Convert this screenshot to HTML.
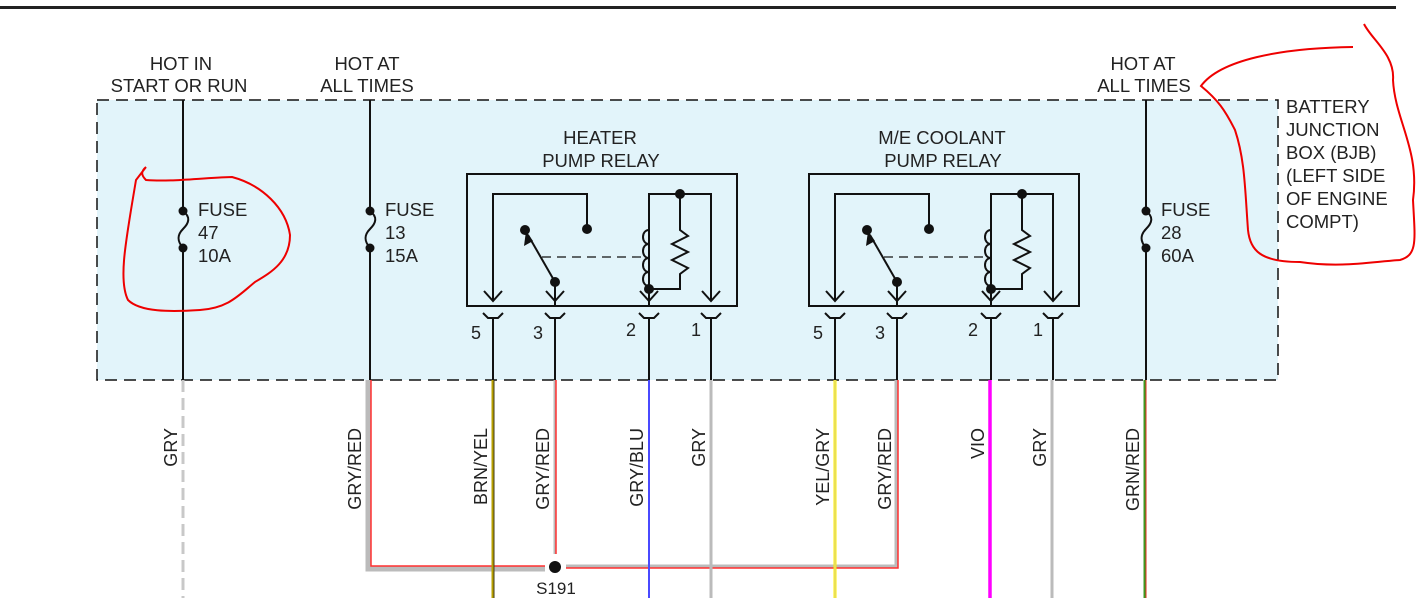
<!DOCTYPE html>
<html><head><meta charset="utf-8"><style>
html,body{margin:0;padding:0;background:#fff;width:1418px;height:598px;overflow:hidden}
text{font-family:"Liberation Sans",Arial,sans-serif;fill:#222}
</style></head><body>
<svg width="1418" height="598" viewBox="0 0 1418 598" xmlns="http://www.w3.org/2000/svg">
<rect x="0" y="6" width="1396" height="3" fill="#222"/>
<rect x="97" y="100" width="1181" height="280" fill="#e2f4fa"/>
<rect x="97" y="100" width="1181" height="280" fill="none" stroke="#111" stroke-width="1.5" stroke-dasharray="12,7"/>

<g font-size="18.5" text-anchor="middle">
<text x="181" y="70">HOT IN</text><text x="179" y="92">START OR RUN</text>
<text x="367" y="70">HOT AT</text><text x="367" y="92">ALL TIMES</text>
<text x="1143" y="70">HOT AT</text><text x="1144" y="92">ALL TIMES</text>
<text x="600" y="144">HEATER</text><text x="601" y="167">PUMP RELAY</text>
<text x="942" y="144">M/E COOLANT</text><text x="943" y="167">PUMP RELAY</text>
</g>
<g font-size="18.5">
<text x="1286" y="113">BATTERY</text><text x="1286" y="136">JUNCTION</text><text x="1286" y="159">BOX (BJB)</text>
<text x="1286" y="182">(LEFT SIDE</text><text x="1286" y="205">OF ENGINE</text><text x="1286" y="228">COMPT)</text>
</g>

<g stroke="#111" stroke-width="2" fill="none">
<path d="M183,100 V211 M183,248 V380"/>
<path d="M370,100 V211 M370,248 V380"/>
<path d="M1146,100 V211 M1146,248 V380"/>
<path d="M183,211 c8,6 6,12 0,18 c-6,6 -6,12 0,19"/>
<path d="M370,211 c8,6 6,12 0,18 c-6,6 -6,12 0,19"/>
<path d="M1146,211 c8,6 6,12 0,18 c-6,6 -6,12 0,19"/>
</g>
<g fill="#111">
<circle cx="183" cy="211" r="4.5"/><circle cx="183" cy="248" r="4.5"/>
<circle cx="370" cy="211" r="4.5"/><circle cx="370" cy="248" r="4.5"/>
<circle cx="1146" cy="211" r="4.5"/><circle cx="1146" cy="248" r="4.5"/>
</g>
<g font-size="18.5">
<text x="198" y="216">FUSE</text><text x="198" y="239">47</text><text x="198" y="262">10A</text>
<text x="385" y="216">FUSE</text><text x="385" y="239">13</text><text x="385" y="262">15A</text>
<text x="1161" y="216">FUSE</text><text x="1161" y="239">28</text><text x="1161" y="262">60A</text>
</g>

<g>
<rect x="467" y="174" width="270" height="132" fill="none" stroke="#111" stroke-width="2"/>
<g stroke="#111" stroke-width="2" fill="none">
<path d="M493,300 V194 H587 V229"/>
<path d="M555,282 L528,235"/>
<path d="M542,257 H645" stroke-dasharray="9,6" stroke-width="1.2"/>
<path d="M649,306 V194 H711 V300"/>
<path d="M649,230 c-8,0 -8,14 0,14 c-8,0 -8,14 0,14 c-8,0 -8,14 0,14 c-8,0 -8,14 0,14"/>
<path d="M680,194 V230 l8,6 l-16,8 l16,8 l-16,8 l16,8 l-8,6 V289 H649"/>
<path d="M555,282 V306"/>
<path d="M484,291 L493,301 L502,291 M546,291 L555,301 L564,291 M640,291 L649,301 L658,291 M702,291 L711,301 L720,291"/>
<path d="M483,313 l5,5 h10 l5,-5 M545,313 l5,5 h10 l5,-5 M639,313 l5,5 h10 l5,-5 M701,313 l5,5 h10 l5,-5"/>
<path d="M493,318 V380 M555,318 V380 M649,318 V380 M711,318 V380"/>
</g>
<path d="M526,231 L524,246 L533,241 Z" fill="#111"/>
<g fill="#111">
<circle cx="587" cy="229" r="5"/><circle cx="525" cy="230" r="5"/><circle cx="555" cy="282" r="5"/>
<circle cx="680" cy="194" r="5"/><circle cx="649" cy="289" r="5"/>
</g>
<g font-size="18"><text x="471" y="339">5</text><text x="533" y="339">3</text><text x="626" y="336">2</text><text x="691" y="336">1</text></g>
</g>
<g transform="translate(342,0)">
<rect x="467" y="174" width="270" height="132" fill="none" stroke="#111" stroke-width="2"/>
<g stroke="#111" stroke-width="2" fill="none">
<path d="M493,300 V194 H587 V229"/>
<path d="M555,282 L528,235"/>
<path d="M542,257 H645" stroke-dasharray="9,6" stroke-width="1.2"/>
<path d="M649,306 V194 H711 V300"/>
<path d="M649,230 c-8,0 -8,14 0,14 c-8,0 -8,14 0,14 c-8,0 -8,14 0,14 c-8,0 -8,14 0,14"/>
<path d="M680,194 V230 l8,6 l-16,8 l16,8 l-16,8 l16,8 l-8,6 V289 H649"/>
<path d="M555,282 V306"/>
<path d="M484,291 L493,301 L502,291 M546,291 L555,301 L564,291 M640,291 L649,301 L658,291 M702,291 L711,301 L720,291"/>
<path d="M483,313 l5,5 h10 l5,-5 M545,313 l5,5 h10 l5,-5 M639,313 l5,5 h10 l5,-5 M701,313 l5,5 h10 l5,-5"/>
<path d="M493,318 V380 M555,318 V380 M649,318 V380 M711,318 V380"/>
</g>
<path d="M526,231 L524,246 L533,241 Z" fill="#111"/>
<g fill="#111">
<circle cx="587" cy="229" r="5"/><circle cx="525" cy="230" r="5"/><circle cx="555" cy="282" r="5"/>
<circle cx="680" cy="194" r="5"/><circle cx="649" cy="289" r="5"/>
</g>
<g font-size="18"><text x="471" y="339">5</text><text x="533" y="339">3</text><text x="626" y="336">2</text><text x="691" y="336">1</text></g>
</g>

<g fill="none">
<path d="M183,380 V598" stroke="#c8c8c8" stroke-width="3" stroke-dasharray="12,6"/>
<path d="M368,380 V569 H545" stroke="#bbb" stroke-width="5"/>
<path d="M371,380 V566 H545" stroke="#ff3030" stroke-width="1.5"/>
<path d="M493,380 V598" stroke="#b8a000" stroke-width="3"/>
<path d="M494,380 V598" stroke="#222" stroke-width="0.8"/>
<path d="M555,380 V554" stroke="#bbb" stroke-width="3"/>
<path d="M556,380 V554" stroke="#ff3030" stroke-width="1.5"/>
<path d="M566,566 H896 V380" stroke="#bbb" stroke-width="3"/>
<path d="M566,568 H898 V380" stroke="#ff3030" stroke-width="1.5"/>
<path d="M649,380 V598" stroke="#4a4aff" stroke-width="2"/>
<path d="M711,380 V598" stroke="#bbb" stroke-width="3"/>
<path d="M835,380 V598" stroke="#ffee00" stroke-width="3"/>
<path d="M835,380 V598" stroke="#ccc" stroke-width="0.8"/>
<path d="M990,380 V598" stroke="#ff00ff" stroke-width="3.5"/>
<path d="M1052,380 V598" stroke="#bbb" stroke-width="3"/>
<path d="M1145,380 V598" stroke="#3c9a20" stroke-width="3"/>
<path d="M1146,380 V598" stroke="#e03020" stroke-width="1"/>
</g>
<circle cx="555" cy="567" r="6" fill="#111"/>
<text x="556" y="594" font-size="17" text-anchor="middle">S191</text>

<g font-size="18" text-anchor="end">
<text transform="translate(177,428) rotate(-90)">GRY</text>
<text transform="translate(361,428) rotate(-90)">GRY/RED</text>
<text transform="translate(487,428) rotate(-90)">BRN/YEL</text>
<text transform="translate(549,428) rotate(-90)">GRY/RED</text>
<text transform="translate(643,428) rotate(-90)">GRY/BLU</text>
<text transform="translate(705,428) rotate(-90)">GRY</text>
<text transform="translate(829,428) rotate(-90)">YEL/GRY</text>
<text transform="translate(891,428) rotate(-90)">GRY/RED</text>
<text transform="translate(984,428) rotate(-90)">VIO</text>
<text transform="translate(1046,428) rotate(-90)">GRY</text>
<text transform="translate(1139,428) rotate(-90)">GRN/RED</text>
</g>

<g fill="none" stroke="#ee0000" stroke-width="2">
<path d="M146,167 C140,172 142,176 146,180 C170,182 200,178 232,177 C262,185 286,208 290,235 C290,262 270,273 255,282 C238,296 228,308 200,310 C170,312 140,312 128,300 C118,280 126,240 136,180 L146,167"/>
<path d="M1364,24 C1372,40 1395,55 1393,80 C1395,120 1420,150 1413,200 C1415,240 1418,255 1400,260 C1370,262 1340,268 1300,262 C1260,262 1250,250 1248,230 C1245,190 1245,160 1235,130 C1225,110 1218,100 1201,86 C1220,60 1280,48 1353,47"/>
</g>
</svg>
</body></html>
